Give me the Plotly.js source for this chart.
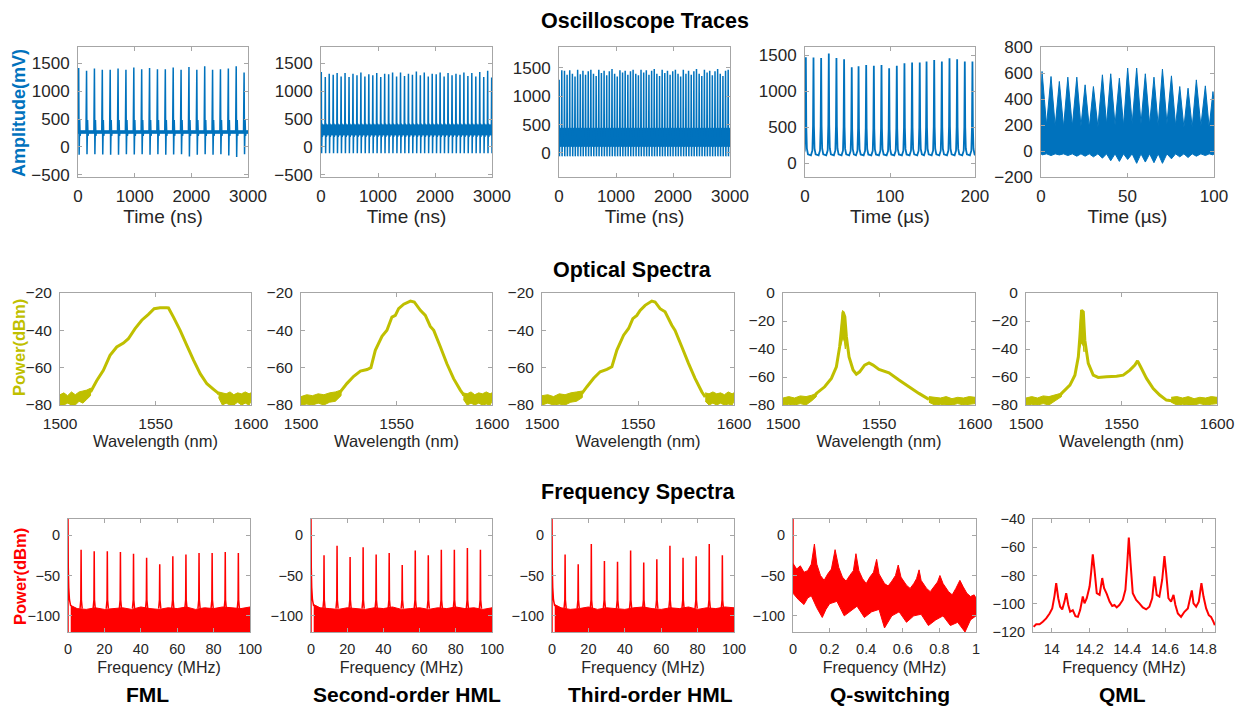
<!DOCTYPE html>
<html>
<head>
<meta charset="utf-8">
<script src="https://cdn.plot.ly/plotly-3.0.1.min.js"></script>
<style>html,body{margin:0;padding:0;background:#fff;}#chart{width:1241px;height:709px;}</style>
</head>
<body>
<div id="chart"></div>
<script>
// ================= DATA =================
// ---- Row 1: oscilloscope traces ----
const fmlPulseT = [12,151,290,429,568,707,846,985,1124,1263,1402,1541,1680,1819,1958,2097,2236,2375,2514,2653,2792,2931];
const fmlPulseV = [1410,1360,1400,1380,1380,1400,1380,1420,1390,1410,1390,1390,1420,1380,1430,1380,1440,1380,1390,1400,1440,1330];
const fmlTroughV = [-140,-130,-130,-135,-140,-140,-130,-135,-130,-140,-130,-140,-135,-130,-170,-140,-130,-140,-130,-150,-180,-130];
const fmlLevels = {base: 265, ring: 480, dip: 200};
const fmlBand = [245, 290];

const hml2PulseT = [5,75,144,214,283,353,422,492,561,631,700,770,839,909,978,1048,1117,1187,1256,1326,1395,1465,1534,1604,1673,1743,1812,1882,1951,2021,2090,2160,2229,2299,2368,2438,2507,2577,2646,2716,2785,2855,2924,2994];
const hml2PulseV = [1340,1250,1310,1290,1320,1260,1320,1250,1310,1280,1330,1260,1300,1280,1320,1250,1310,1300,1330,1260,1330,1270,1310,1290,1350,1280,1330,1260,1310,1300,1330,1260,1320,1280,1310,1290,1330,1270,1320,1260,1340,1250,1360,1240];
const hml2Levels = {base: 290, ring: 420, dip: 180, trough: -110};
const hml2Band = [215, 395];

const hml3PulseT = [3,49,96,142,188,235,281,327,374,420,466,513,559,605,652,698,744,791,837,883,930,976,1022,1069,1115,1161,1208,1254,1300,1347,1393,1439,1486,1532,1578,1625,1671,1717,1764,1810,1856,1903,1949,1995,2042,2088,2134,2181,2227,2273,2320,2366,2412,2459,2505,2551,2598,2644,2690,2737,2783,2829,2876,2922,2968];
const hml3PulseV = [1290,1460,1450,1380,1460,1400,1350,1470,1390,1450,1380,1440,1470,1400,1360,1470,1410,1450,1370,1440,1480,1400,1350,1460,1420,1450,1380,1440,1470,1400,1370,1470,1420,1460,1380,1450,1480,1400,1360,1470,1410,1450,1380,1440,1470,1400,1350,1470,1400,1450,1380,1440,1480,1400,1360,1470,1420,1450,1370,1440,1480,1400,1360,1450,1470];
const hml3Levels = {base: 270, ring: 440, dip: 110, trough: -60};
const hml3Band = [120, 435];

const qsPulseT = [1,10,19,28,37,46,55,63,72,81,90,99,108,117,126,135,143,152,161,170,179,188,197];
const qsPulseV = [1470,1465,1460,1520,1460,1440,1330,1345,1360,1350,1360,1315,1350,1385,1395,1395,1410,1430,1410,1455,1440,1410,1410];
const qsBase = 110;

const qmlEnvT = [0.6,5.8,10.6,15.5,20.7,25.5,30.3,35.5,40.3,45.3,50.1,55.3,60.3,65.3,70.2,75.4,80.2,85,89.8,95,99.4];
const qmlEnvV = [612,573,535,568,568,509,496,586,594,560,638,638,594,568,630,578,496,483,547,501,457];
const qmlValleyV = [200,190,185,190,190,180,185,205,200,195,210,210,205,195,210,195,180,180,190,180];
const qmlLowDipV = [-30,-35,-30,-35,-40,-40,-45,-55,-75,-80,-65,-95,-85,-90,-95,-60,-45,-50,-40,-35,-30];
const qmlLowGapV = -22;

// ---- Row 2: optical spectra ----
const osaFmlWl = [1516,1519.2,1522.7,1526.2,1529.7,1533.2,1535.8,1539.3,1542.8,1546.3,1549.3,1552.4,1555.9,1556.8,1559.4,1562.9,1566.4,1569.9,1573.4,1576.9,1580.4,1583];
const osaFmlP  = [-73,-67,-61.4,-53.4,-48.9,-46.8,-44.5,-39.1,-34.6,-31.4,-28.4,-27.9,-27.9,-28,-32.9,-40,-48,-56,-63.2,-68.6,-71.6,-73.8];
const osaFmlNoiseLX = [1500,1502,1504,1506,1508,1510,1512,1514,1516];
const osaFmlNoiseLU = [-74.5,-73.5,-75,-73,-74.5,-73,-72.5,-72,-71];
const osaFmlNoiseLD = [-80,-80,-79,-80,-80,-78,-79,-77,-75];
const osaFmlNoiseRX = [1583,1585,1587,1589,1591,1593,1595,1597,1599,1600];
const osaFmlNoiseRU = [-73,-73.5,-74,-73,-74.5,-73.5,-74,-73,-74,-73.5];
const osaFmlNoiseRD = [-76,-80,-79,-80,-80,-78.5,-80,-79,-80,-78];

const osaHml2Wl = [1520.6,1524.1,1527.6,1531.1,1534.6,1536.6,1538.9,1542.4,1545,1547.6,1549.4,1551.1,1553.8,1557.3,1559.3,1562.5,1565.1,1567.7,1569.5,1573,1576.4,1579.9,1583.4,1585.2];
const osaHml2P  = [-72.9,-68.4,-64.6,-61.8,-61,-60,-50.7,-43.2,-40,-32.9,-32,-28.4,-26,-24.3,-24.8,-29.3,-32,-37.9,-40,-48.9,-57.9,-65.9,-72,-74.6];
const osaHml2NoiseLX = [1500,1503,1506,1509,1512,1515,1518,1521];
const osaHml2NoiseLU = [-75.5,-74.5,-75,-74,-74.5,-73.5,-73,-72];
const osaHml2NoiseLD = [-80,-79.5,-80,-79,-80,-78.5,-78,-75];
const osaHml2NoiseRX = [1585,1587,1589,1591,1593,1595,1597,1599,1600];
const osaHml2NoiseRU = [-73.5,-74,-73,-74.5,-73.5,-74,-73,-74,-73.5];
const osaHml2NoiseRD = [-77,-80,-79,-80,-79,-80,-79.5,-80,-78];

const osaHml3Wl = [1520.8,1523.4,1526.9,1530.3,1533.8,1536.4,1539,1542.5,1545.1,1547.3,1549.4,1551.1,1553.7,1557.2,1558.9,1561.5,1564.1,1567.6,1569.3,1572.8,1576.3,1579.7,1583.2,1584.9];
const osaHml3P  = [-73.8,-70.2,-65.7,-62.2,-60.9,-59.5,-50.6,-42.6,-39,-33.7,-32,-29.3,-26.6,-24.3,-24.8,-28.4,-30.1,-37.3,-40,-48.8,-57.7,-65.7,-72.9,-75.5];
const osaHml3NoiseLX = [1500,1503,1506,1509,1512,1515,1518,1521];
const osaHml3NoiseLU = [-75,-74.5,-75.5,-74,-74.5,-73.5,-73,-72.5];
const osaHml3NoiseLD = [-80,-79,-80,-79.5,-80,-78.5,-78,-76];
const osaHml3NoiseRX = [1585,1587,1589,1591,1593,1595,1597,1599,1600];
const osaHml3NoiseRU = [-73.5,-74,-73,-74,-73.5,-74.5,-73,-74,-73.5];
const osaHml3NoiseRD = [-78,-80,-79,-80,-79,-80,-79.5,-80,-78];

const osaQsWl = [1517.4,1521.7,1525.2,1527.8,1529.5,1530.4,1531.3,1532.2,1533,1534.4,1536.5,1538.2,1539.9,1542.5,1544.8,1546.9,1550,1555.2,1560.4,1565.6,1570.8,1576];
const osaQsP  = [-71.7,-67,-61,-52.7,-38.5,-26.6,-13.5,-17,-31,-45.6,-55,-58,-56.3,-51.5,-50,-51.5,-54.6,-57,-62.2,-67,-71.7,-76];
const osaQsPeakX = [1530,1530.5,1531,1531.5,1532,1532.5];
const osaQsPeakU = [-30,-18,-12.5,-13,-17,-30];
const osaQsPeakD = [-38,-36,-33,-33,-35,-40];
const osaQsNoiseLX = [1500,1503,1506,1509,1512,1515,1517.4];
const osaQsNoiseLU = [-75,-74,-75,-73.5,-74,-73,-71.5];
const osaQsNoiseLD = [-80,-79.5,-80,-79,-80,-77,-74];
const osaQsNoiseRX = [1576,1579,1582,1585,1588,1591,1594,1597,1600];
const osaQsNoiseRU = [-74,-74.5,-75,-74,-75.5,-74.5,-75,-74,-74.5];
const osaQsNoiseRD = [-78,-80,-79.5,-80,-80,-79,-80,-79.5,-79];

const osaQmlWl = [1518.6,1523,1525.6,1527.4,1528.2,1529.1,1530,1530.8,1532.6,1535.2,1537.8,1542.2,1547.4,1550.9,1554.4,1557,1558.4,1560,1563.1,1566.6,1570,1573.5,1576.1];
const osaQmlP  = [-71.7,-65.8,-58.7,-45.6,-31.4,-12.4,-13.5,-33.7,-50.3,-58.7,-60.3,-59.8,-59.4,-58.7,-55.1,-51.5,-48.5,-52.7,-61,-68.2,-72.9,-76.5,-77];
const osaQmlPeakX = [1528,1528.5,1528.8,1529.2,1529.6,1530,1530.4];
const osaQmlPeakU = [-30,-15,-12,-20,-12.5,-14,-30];
const osaQmlPeakD = [-40,-38,-36,-36,-36,-38,-42];
const osaQmlNoiseLX = [1500,1503,1506,1509,1512,1515,1518.6];
const osaQmlNoiseLU = [-75,-74,-75,-73.5,-74,-73,-71.5];
const osaQmlNoiseLD = [-80,-79.5,-80,-79,-80,-77.5,-74];
const osaQmlNoiseRX = [1576,1579,1582,1585,1588,1591,1594,1597,1600];
const osaQmlNoiseRU = [-74.5,-74,-75,-74,-75.5,-74.5,-75,-74,-74.5];
const osaQmlNoiseRD = [-78,-80,-79.5,-80,-80,-79,-80,-79.5,-79];

// ---- Row 3: frequency (RF) spectra ----
const rfDcF = [0,0,0.15,0.4,0.8,1.5];
const rfDcP = [-120,20,-40,-65,-80,-88];

const rfHarmF = [7.2,14.4,21.6,28.8,36.0,43.2,50.4,57.6,64.8,72.0,79.2,86.4,93.6];
const rfFmlP  = [-18,-20,-20,-21,-23,-28,-36,-26,-24,-22,-22,-21,-22];
const rfHml2P = [-25,-13,-27,-15,-24,-22,-37,-19,-25,-18,-18,-16,-18];
const rfHml3P = [-24,-36,-11,-32,-33,-19,-34,-30,-13,-28,-26,-11,-25];

const rfFloorF     = [1.5,5,10,15,20,25,30,35,40,45,50,55,60,65,70,75,80,85,90,95,100];
const rfFmlFloorP  = [-87,-91,-92,-90,-92,-91,-90,-92,-89,-91,-92,-90,-91,-89,-92,-90,-91,-89,-90,-91,-89];
const rfHml2FloorP = [-86,-90,-91,-92,-90,-91,-92,-90,-91,-89,-92,-91,-90,-92,-90,-91,-89,-91,-90,-92,-90];
const rfHml3FloorP = [-86,-90,-92,-91,-89,-92,-90,-91,-92,-90,-89,-91,-92,-90,-91,-89,-92,-90,-91,-89,-90];
const rfFloorBottom = -121;

const rfQsUpF = [0,0.02,0.04,0.06,0.08,0.1,0.117,0.13,0.15,0.17,0.19,0.21,0.23,0.25,0.27,0.29,0.31,0.33,0.344,0.36,0.38,0.4,0.42,0.44,0.457,0.47,0.5,0.52,0.54,0.56,0.575,0.59,0.62,0.64,0.66,0.675,0.689,0.7,0.73,0.75,0.77,0.79,0.803,0.82,0.85,0.87,0.89,0.9,0.912,0.93,0.95,0.97,0.99,1.0];
const rfQsUpP = [-35,-42,-38,-46,-44,-36,-11,-36,-50,-56,-48,-42,-18,-40,-52,-57,-50,-44,-23,-44,-54,-60,-52,-46,-30,-48,-60,-63,-57,-50,-37,-52,-62,-66,-60,-54,-43,-56,-66,-70,-64,-58,-50,-60,-70,-74,-66,-62,-56,-64,-72,-76,-74,-78];
const rfQsLoF = [0,0.03,0.06,0.08,0.1,0.13,0.16,0.18,0.2,0.24,0.28,0.31,0.35,0.39,0.43,0.47,0.5,0.54,0.58,0.62,0.66,0.7,0.74,0.78,0.82,0.86,0.9,0.94,0.97,1.0];
const rfQsLoP = [-72,-80,-86,-78,-75,-90,-102,-92,-85,-82,-100,-95,-88,-102,-95,-92,-115,-100,-95,-108,-100,-98,-112,-105,-100,-112,-108,-120,-105,-100];
const rfQsDcF = [0,0];
const rfQsDcP = [-70,20];

const rfQmlF = [13.903,13.917,13.935,13.952,13.970,13.988,14.002,14.014,14.023,14.034,14.044,14.055,14.067,14.076,14.087,14.097,14.111,14.125,14.138,14.150,14.164,14.173,14.185,14.200,14.208,14.217,14.226,14.238,14.253,14.267,14.277,14.291,14.306,14.320,14.332,14.344,14.358,14.376,14.390,14.399,14.408,14.417,14.429,14.447,14.464,14.482,14.500,14.517,14.532,14.544,14.556,14.570,14.585,14.597,14.606,14.618,14.632,14.645,14.655,14.668,14.685,14.703,14.721,14.733,14.742,14.751,14.765,14.779,14.793,14.804,14.818,14.832,14.844,14.857,14.864];
const rfQmlP = [-116.4,-114.5,-114.5,-112.8,-110.4,-106.9,-103.3,-94.4,-85.4,-96.1,-102.1,-104.0,-98.5,-92.5,-100.9,-105.7,-104.5,-108.8,-109.3,-104.5,-94.9,-99.7,-96.1,-87.8,-78.2,-65.1,-75.8,-92.5,-93.7,-81.8,-89.0,-93.0,-98.5,-101.6,-100.9,-102.6,-100.9,-97.3,-90.1,-73.4,-53.1,-71.0,-92.5,-97.3,-99.7,-102.6,-104.0,-102.1,-96.1,-80.6,-93.7,-94.9,-83.0,-66.3,-78.2,-96.1,-98.5,-93.7,-100.9,-106.9,-109.3,-105.7,-103.3,-96.1,-90.6,-99.7,-102.1,-98.5,-85.4,-94.9,-103.3,-108.1,-109.3,-112.8,-115.2];

// ---- tick values ----
const tickNsX = [0,1000,2000,3000];
const tickMvY = [-500,0,500,1000,1500];
const tickMv3Y = [0,500,1000,1500];
const tickUsQsX = [0,100,200];
const tickUsQmlX = [0,50,100];
const tickMvQmlY = [-200,0,200,400,600,800];
const tickWlX = [1500,1550,1600];
const tickDbm20Y = [-80,-60,-40,-20];
const tickDbm0Y = [-80,-60,-40,-20,0];
const tickMhzX = [0,20,40,60,80,100];
const tickRfY = [-100,-50,0];
const tickQsRfX = [0,0.2,0.4,0.6,0.8,1];
const tickQmlRfX = [14,14.2,14.4,14.6,14.8];
const tickQmlRfY = [-120,-100,-80,-60,-40];

const sectionTitles = ['Oscilloscope Traces','Optical Spectra','Frequency Spectra'];
const regimeLabels = ['FML','Second-order HML','Third-order HML','Q-switching','QML'];

// ================= DRAWING =================
const W = 1241, H = 709;
const FONT = 'Arial, "Liberation Sans", Helvetica, sans-serif';
const BLUE = '#0072BD', OLIVE = '#BFBF00', RED = '#FF0000';
const TXT = '#262626', FRAME = '#a6a6a6';

function sfx(n){ return n === 1 ? '' : String(n); }
function line(n, x, y, color, w){
  return {type:'scatter', mode:'lines', x:x, y:y, xaxis:'x'+sfx(n), yaxis:'y'+sfx(n),
          line:{color:color, width:w, simplify:false}, connectgaps:false, hoverinfo:'skip'};
}
function poly(n, xu, yu, xl, yl, color){
  const x = xu.concat(xl.slice().reverse());
  const y = yu.concat(yl.slice().reverse());
  return {type:'scatter', mode:'lines', x:x, y:y, xaxis:'x'+sfx(n), yaxis:'y'+sfx(n),
          fill:'toself', fillcolor:color, line:{color:color, width:1}, hoverinfo:'skip'};
}
function flat(xs, v){ return xs.map(function(){ return v; }); }

function oscTrain(times, peaks, troughs, lv, dt, xEnd){
  const x = [0], y = [lv.base];
  times.forEach(function(t, i){
    const tr = Array.isArray(troughs) ? troughs[i] : troughs;
    x.push(t+dt[0], t, t+dt[1], t+dt[2], t+dt[3], t+dt[4]);
    y.push(lv.base, peaks[i], tr, lv.ring, lv.dip, lv.base);
  });
  x.push(xEnd); y.push(lv.base);
  return {x:x, y:y};
}
const qsShape = [[-3,0],[-1.3,0.05],[-0.55,0.3],[0,1],[0.5,0.3],[1.2,0.07],[2.5,0.01]];
function qsTrain(times, peaks, base){
  const x = [0], y = [base];
  times.forEach(function(t, i){
    qsShape.forEach(function(s){ x.push(t+s[0]); y.push(base + s[1]*(peaks[i]-base)); });
  });
  x.push(200); y.push(base);
  return {x:x, y:y};
}
function rfSpikes(freqs, peaks, floorLevel){
  const x = [], y = [];
  freqs.forEach(function(f, i){
    x.push(f-0.6, f-0.15, f, f+0.15, f+0.6, null);
    y.push(floorLevel, -80, peaks[i], -80, floorLevel, null);
  });
  return {x:x, y:y};
}

const traces = [];
// --- Row 1 ---
const t1 = oscTrain(fmlPulseT, fmlPulseV, fmlTroughV, fmlLevels, [-10,8,18,26,34], 3000);
traces.push(poly(1, [0,3000], flat([0,3000], fmlBand[1]), [0,3000], flat([0,3000], fmlBand[0]), BLUE));
traces.push(line(1, t1.x, t1.y, BLUE, 1.5));

const t2 = oscTrain(hml2PulseT, hml2PulseV, hml2Levels.trough, hml2Levels, [-6,6,13,20,28], 3000);
traces.push(poly(2, [0,3000], flat([0,3000], hml2Band[1]), [0,3000], flat([0,3000], hml2Band[0]), BLUE));
traces.push(line(2, t2.x, t2.y, BLUE, 1.5));

const t3 = oscTrain(hml3PulseT, hml3PulseV, hml3Levels.trough, hml3Levels, [-5,5,11,17,24], 3000);
traces.push(poly(3, [0,3000], flat([0,3000], hml3Band[1]), [0,3000], flat([0,3000], hml3Band[0]), BLUE));
traces.push(line(3, t3.x, t3.y, BLUE, 1.5));

const t4 = qsTrain(qsPulseT, qsPulseV, qsBase);
traces.push(line(4, t4.x, t4.y, BLUE, 1.8));

(function(){
  const xu = [0], yu = [420];
  qmlEnvT.forEach(function(t, i){
    xu.push(t); yu.push(qmlEnvV[i]);
    if (i < qmlValleyV.length){ xu.push((t + qmlEnvT[i+1]) / 2); yu.push(qmlValleyV[i]); }
  });
  xu.push(100); yu.push(380);
  const xl = [0], yl = [qmlLowGapV];
  qmlEnvT.forEach(function(t, i){
    xl.push(t); yl.push(qmlLowDipV[i]);
    if (i < qmlEnvT.length - 1){ xl.push((t + qmlEnvT[i+1]) / 2); yl.push(qmlLowGapV); }
  });
  xl.push(100); yl.push(qmlLowGapV);
  traces.push(poly(5, xu, yu, xl, yl, BLUE));
})();

// --- Row 2 ---
function osaPanel(n, wl, p, nlx, nlu, nld, nrx, nru, nrd, px, pu, pd){
  traces.push(poly(n, nlx, nlu, nlx, nld, OLIVE));
  traces.push(poly(n, nrx, nru, nrx, nrd, OLIVE));
  if (px) traces.push(poly(n, px, pu, px, pd, OLIVE));
  const x = [nlx[nlx.length-1]].concat(wl, [nrx[0]]);
  const y = [(nlu[nlu.length-1]+nld[nld.length-1])/2].concat(p, [(nru[0]+nrd[0])/2]);
  traces.push(line(n, x, y, OLIVE, 3));
}
osaPanel(6, osaFmlWl, osaFmlP, osaFmlNoiseLX, osaFmlNoiseLU, osaFmlNoiseLD, osaFmlNoiseRX, osaFmlNoiseRU, osaFmlNoiseRD);
osaPanel(7, osaHml2Wl, osaHml2P, osaHml2NoiseLX, osaHml2NoiseLU, osaHml2NoiseLD, osaHml2NoiseRX, osaHml2NoiseRU, osaHml2NoiseRD);
osaPanel(8, osaHml3Wl, osaHml3P, osaHml3NoiseLX, osaHml3NoiseLU, osaHml3NoiseLD, osaHml3NoiseRX, osaHml3NoiseRU, osaHml3NoiseRD);
osaPanel(9, osaQsWl, osaQsP, osaQsNoiseLX, osaQsNoiseLU, osaQsNoiseLD, osaQsNoiseRX, osaQsNoiseRU, osaQsNoiseRD, osaQsPeakX, osaQsPeakU, osaQsPeakD);
osaPanel(10, osaQmlWl, osaQmlP, osaQmlNoiseLX, osaQmlNoiseLU, osaQmlNoiseLD, osaQmlNoiseRX, osaQmlNoiseRU, osaQmlNoiseRD, osaQmlPeakX, osaQmlPeakU, osaQmlPeakD);

// --- Row 3 ---
function rfPanel(n, peaks, floorP){
  traces.push(poly(n, rfFloorF, floorP, rfFloorF, flat(rfFloorF, rfFloorBottom), RED));
  traces.push(line(n, rfDcF, rfDcP, RED, 1.5));
  const s = rfSpikes(rfHarmF, peaks, -91);
  traces.push(line(n, s.x, s.y, RED, 1.5));
}
rfPanel(11, rfFmlP, rfFmlFloorP);
rfPanel(12, rfHml2P, rfHml2FloorP);
rfPanel(13, rfHml3P, rfHml3FloorP);
traces.push(poly(14, rfQsUpF, rfQsUpP, rfQsLoF, rfQsLoP, RED));
traces.push(line(14, rfQsDcF, rfQsDcP, RED, 1.5));
traces.push(line(15, rfQmlF, rfQmlP, RED, 2));

// --- panel layout (pixel boxes) ---
const panels = [
  {x:[78,248],   y:[47,177],  xr:[0,3000], yr:[-536,1786], xt:tickNsX, yt:tickMvY, title:'Time (ns)', fs:17, tfs:19, so:4},
  {x:[321,492],  y:[47,177],  xr:[0,3000], yr:[-536,1786], xt:tickNsX, yt:tickMvY, title:'Time (ns)', fs:17, tfs:19, so:4},
  {x:[559,730],  y:[47,177],  xr:[0,3000], yr:[-424,1870], xt:tickNsX, yt:tickMv3Y, title:'Time (ns)', fs:17, tfs:19, so:4},
  {x:[805,975],  y:[47,177],  xr:[0,200],  yr:[-190,1611], xt:tickUsQsX, yt:tickMv3Y, title:'Time (µs)', fs:17, tfs:19, so:4},
  {x:[1041,1214],y:[47,177],  xr:[0,100],  yr:[-200,800],  xt:tickUsQmlX, yt:tickMvQmlY, title:'Time (µs)', fs:17, tfs:19, so:4},
  {x:[60,251],   y:[293,405], xr:[1500,1600], yr:[-80,-20], xt:tickWlX, yt:tickDbm20Y, title:'Wavelength (nm)', fs:15.5, tfs:16.5, so:2},
  {x:[301,492],  y:[293,405], xr:[1500,1600], yr:[-80,-20], xt:tickWlX, yt:tickDbm20Y, title:'Wavelength (nm)', fs:15.5, tfs:16.5, so:2},
  {x:[542,734],  y:[293,405], xr:[1500,1600], yr:[-80,-20], xt:tickWlX, yt:tickDbm20Y, title:'Wavelength (nm)', fs:15.5, tfs:16.5, so:2},
  {x:[783,975],  y:[293,405], xr:[1500,1600], yr:[-80,0],   xt:tickWlX, yt:tickDbm0Y, title:'Wavelength (nm)', fs:15.5, tfs:16.5, so:2},
  {x:[1026,1217],y:[293,405], xr:[1500,1600], yr:[-80,0],   xt:tickWlX, yt:tickDbm0Y, title:'Wavelength (nm)', fs:15.5, tfs:16.5, so:2},
  {x:[68,250],   y:[519,632], xr:[0,100], yr:[-120,20], xt:tickMhzX, yt:tickRfY, title:'Frequency (MHz)', fs:14.5, tfs:16, so:5},
  {x:[311,492],  y:[519,632], xr:[0,100], yr:[-120,20], xt:tickMhzX, yt:tickRfY, title:'Frequency (MHz)', fs:14.5, tfs:16, so:5},
  {x:[552,734],  y:[519,632], xr:[0,100], yr:[-120,20], xt:tickMhzX, yt:tickRfY, title:'Frequency (MHz)', fs:14.5, tfs:16, so:5},
  {x:[793,976],  y:[519,632], xr:[0,1],   yr:[-120,20], xt:tickQsRfX, yt:tickRfY, title:'Frequency (MHz)', fs:14.5, tfs:16, so:5},
  {x:[1033,1215],y:[519,632], xr:[13.9,14.865], yr:[-120,-40], xt:tickQmlRfX, yt:tickQmlRfY, title:'Frequency (MHz)', fs:14.5, tfs:16, so:5}
];

function baseAxis(fs){
  return {showline:true, mirror:'ticks', linecolor:FRAME, linewidth:1, ticks:'inside', ticklen:4,
          tickcolor:FRAME, tickwidth:1, showgrid:false, zeroline:false, fixedrange:true,
          tickfont:{family:FONT, size:fs, color:TXT}, ticklabelstandoff:4, automargin:false};
}

const layout = {width:W, height:H, margin:{l:0,r:0,t:0,b:0}, paper_bgcolor:'#ffffff', plot_bgcolor:'#ffffff',
                showlegend:false, annotations:[], font:{family:FONT, color:TXT}};
panels.forEach(function(p, k){
  const n = k + 1, s = sfx(n);
  layout['xaxis'+s] = Object.assign(baseAxis(p.fs), {
    domain:[p.x[0]/W, p.x[1]/W], anchor:'y'+s, range:p.xr, tickmode:'array', tickvals:p.xt,
    title:{text:p.title, font:{family:FONT, size:p.tfs, color:TXT}, standoff:p.so}
  });
  layout['yaxis'+s] = Object.assign(baseAxis(p.fs), {
    domain:[1-p.y[1]/H, 1-p.y[0]/H], anchor:'x'+s, range:p.yr, tickmode:'array', tickvals:p.yt
  });
});

function ann(text, px, py, size, color, bold, angle){
  return {text: bold ? '<b>'+text+'</b>' : text, x:px/W, y:1-py/H, xref:'paper', yref:'paper',
          xanchor:'center', yanchor:'middle', showarrow:false, textangle:angle||0,
          font:{family:FONT, size:size, color:color}};
}
layout.annotations.push(ann(sectionTitles[0], 645, 21, 21.5, '#000', true));
layout.annotations.push(ann(sectionTitles[1], 632, 270, 21.5, '#000', true));
layout.annotations.push(ann(sectionTitles[2], 639, 492, 21.5, '#000', true));
layout.annotations.push(ann('Amplitude(mV)', 19, 113, 18, BLUE, true, -90));
layout.annotations.push(ann('Power(dBm)', 19, 348, 16.5, OLIVE, true, -90));
layout.annotations.push(ann('Power(dBm)', 20, 576, 16.5, RED, true, -90));
const labelX = [147, 407, 650, 890, 1122];
regimeLabels.forEach(function(t, i){ layout.annotations.push(ann(t, labelX[i], 694, 21, '#000', true)); });

Plotly.newPlot('chart', traces, layout, {staticPlot:true, displayModeBar:false});
</script>
</body>
</html>
